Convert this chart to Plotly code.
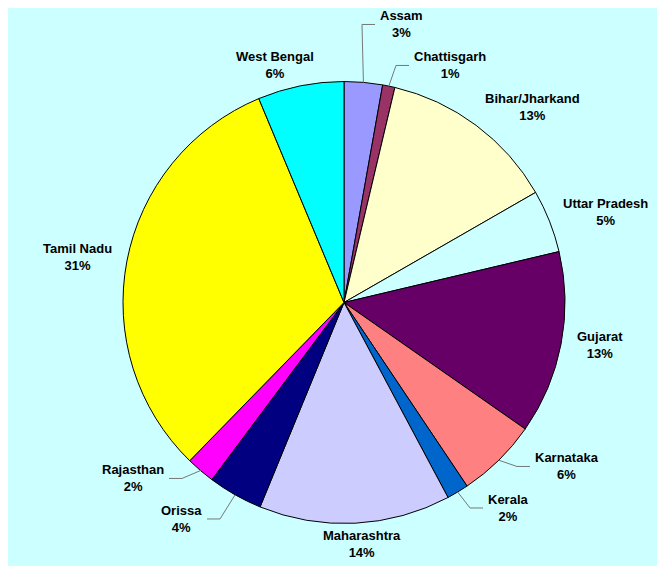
import math
import plotly.graph_objects as go

# ---- data ----
states = ["Assam", "Chattisgarh", "Bihar/Jharkand", "Uttar Pradesh", "Gujarat",
          "Karnataka", "Kerala", "Maharashtra", "Orissa", "Rajasthan",
          "Tamil Nadu", "West Bengal"]
shares = [2.8, 0.9, 13.0, 4.6, 13.4, 5.9, 1.6, 14.0, 4.0, 2.1, 31.4, 6.3]

# ---- styling ----
slice_colors = ["#9999FF", "#993366", "#FFFFCC", "#CCFFFF", "#660066", "#FF8080",
                "#0066CC", "#CCCCFF", "#000080", "#FF00FF", "#FFFF00", "#00FFFF"]
BG = "#CCFFFF"

# label placement relative to each slice's middle angle: distance (px) and angular shift (deg)
label_dist = [280.1, 246.6, 271.9, 276.7, 259.5, 250.2, 249.8, 242.2, 257.8, 250.3, 270.8, 247.3]
label_shift = [1.93, 4.31, 7.3, 2.5, -1.4, -4.59, -3.69, -1.4, 3.37, 4.83, -1.1, -4.86]
# labels with leader lines are anchored at their inner edge (left or right)
has_leader = [True, True, False, False, False, True, True, False, True, True, False, False]

W, H = 657, 558           # figure size (page body adds an 8px margin)
CX, CY, R = 336.0, 294.5, 221.0   # pie centre and radius in figure pixels

total = sum(shares)

fig = go.Figure(go.Pie(
    labels=states,
    values=shares,
    sort=False,
    direction="clockwise",
    rotation=0,
    marker=dict(colors=slice_colors, line=dict(color="#000000", width=1)),
    textinfo="none",
    hoverinfo="label+percent",
    domain=dict(x=[(CX - R) / W, (CX + R) / W], y=[1 - (CY + R) / H, 1 - (CY - R) / H]),
    showlegend=False,
))

def px_to_paper(x, y):
    return x / W, 1 - y / H

annotations = []
shapes = []
cum = 0.0
for name, v, dist, shift, lead in zip(states, shares, label_dist, label_shift, has_leader):
    mid = (cum + v / 2) / total * 360.0
    cum += v
    pct = v / total
    text = f"<b>{name}<br>{pct:.0%}</b>"
    ang = math.radians(mid + shift)
    lx = CX + dist * math.sin(ang)
    ly = CY - dist * math.cos(ang)
    if lead:
        right_side = math.sin(math.radians(mid)) >= 0
        xanchor = "left" if right_side else "right"
        sgn = 1 if right_side else -1
        # leader line: slice edge -> elbow -> just before the label
        ex = CX + R * math.sin(math.radians(mid))
        ey = CY - R * math.cos(math.radians(mid))
        elbow_x = lx - sgn * 16
        end_x = lx - sgn * 3
        pts = [(ex, ey), (elbow_x, ly), (end_x, ly)]
        path = "M " + " L ".join(f"{px_to_paper(a, b)[0]:.5f},{px_to_paper(a, b)[1]:.5f}" for a, b in pts)
        shapes.append(dict(type="path", xref="paper", yref="paper", path=path,
                           line=dict(color="#777777", width=1)))
    else:
        xanchor = "center"
    ax, ay = px_to_paper(lx, ly)
    annotations.append(dict(x=ax, y=ay, xref="paper", yref="paper", text=text,
                            showarrow=False, xanchor=xanchor, yanchor="middle",
                            align="center",
                            font=dict(family="Arial, Liberation Sans, sans-serif",
                                      size=13, color="#000000")))

fig.update_layout(
    width=W, height=H,
    margin=dict(l=0, r=0, t=0, b=0),
    paper_bgcolor=BG,
    plot_bgcolor=BG,
    annotations=annotations,
    shapes=shapes,
)

fig.write_html("out.html")
